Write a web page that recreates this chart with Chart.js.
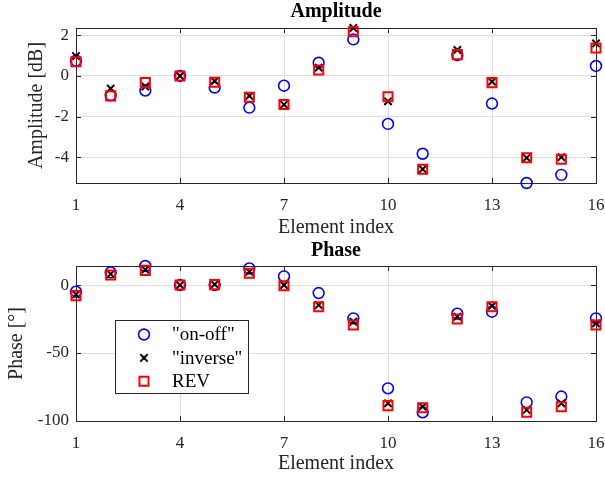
<!DOCTYPE html>
<html>
<head>
<meta charset="utf-8">
<script src="https://cdn.jsdelivr.net/npm/chart.js@4"></script>
<style>
  body { margin: 0; background: #ffffff; }
  .pane { position: absolute; left: 0; width: 605px; }
</style>
</head>
<body>
<div class="pane" style="top:0;height:240px"><canvas id="ampChart" width="605" height="240"></canvas></div>
<div class="pane" style="top:240px;height:239px"><canvas id="phaseChart" width="605" height="239"></canvas></div>
<script>
// element indices
const elements = [1, 2, 3, 4, 5, 6, 7, 8, 9, 10, 11, 12, 13, 14, 15, 16];
const elemTicks = [1, 4, 7, 10, 13, 16];

// amplitude [dB]
const ampOnOff   = [0.75, -0.95, -0.72, 0.00, -0.57, -1.56, -0.48, 0.65, 1.80, -2.36, -3.83, 1.02, -1.36, -5.27, -4.87, 0.49];
const ampInverse = [0.98, -0.62, -0.52, 0.00, -0.26, -0.98, -1.41, 0.41, 2.36, -1.25, -4.59, 1.28, -0.28, -4.03, -4.00, 1.60];
const ampRev     = [0.70, -0.98, -0.33, 0.00, -0.31, -1.05, -1.41, 0.29, 2.18, -1.02, -4.59, 1.05, -0.33, -4.03, -4.10, 1.38];
const ampTicks = [-4, -2, 0, 2];

// phase [deg]
const phaseOnOff   = [-4.9, 9.3, 14.0, 0.0, 0.0, 12.2, 6.4, -5.9, -24.5, -76.0, -93.6, -21.1, -19.6, -86.3, -82.0, -24.5];
const phaseInverse = [-6.9, 8.1, 11.3, 0.0, 0.5, 9.8, 0.0, -14.7, -27.0, -87.0, -89.5, -23.3, -15.4, -91.9, -87.0, -28.2];
const phaseRev     = [-7.8, 7.4, 10.8, 0.0, 0.3, 8.6, -0.5, -15.9, -29.4, -88.7, -90.2, -25.0, -15.9, -93.6, -89.5, -29.4];
const phaseTicks = [-100, -50, 0];

const seriesNames = ['"on-off"', '"inverse"', 'REV'];

const textColor = '#262626';
const serif = "'Liberation Serif', 'DejaVu Serif', serif";

function toPoints(ys) {
    return elements.map((x, i) => ({ x: x, y: ys[i] }));
}

function makeDatasets(onOff, inverse, rev) {
    return [
        { label: seriesNames[0], data: toPoints(onOff), pointStyle: 'circle', pointRadius: 5.4,
          borderColor: '#0000ff', backgroundColor: 'rgba(0,0,0,0)', pointBorderWidth: 1.6, showLine: false, clip: false, order: 3 },
        { label: seriesNames[1], data: toPoints(inverse), pointStyle: 'crossRot', pointRadius: 5.2,
          borderColor: '#000000', backgroundColor: '#000000', pointBorderWidth: 2, showLine: false, clip: false, order: 2 },
        { label: seriesNames[2], data: toPoints(rev), pointStyle: 'rect', pointRadius: 6.4,
          borderColor: '#ff0000', backgroundColor: 'rgba(0,0,0,0)', pointBorderWidth: 2, showLine: false, clip: false, order: 1 }
    ];
}

// box and inward ticks like matlab axes
const axesBox = {
    id: 'axesBox',
    beforeDatasetsDraw(chart) {
        const { ctx, chartArea: a, scales } = chart;
        const len = 5;
        ctx.save();
        ctx.strokeStyle = textColor;
        ctx.lineWidth = 1;
        ctx.beginPath();
        scales.x.ticks.forEach(t => {
            const px = Math.round(scales.x.getPixelForValue(t.value)) + 0.5;
            ctx.moveTo(px, a.bottom); ctx.lineTo(px, a.bottom - len);
            ctx.moveTo(px, a.top); ctx.lineTo(px, a.top + len);
        });
        scales.y.ticks.forEach(t => {
            const py = Math.round(scales.y.getPixelForValue(t.value)) + 0.5;
            ctx.moveTo(a.left, py); ctx.lineTo(a.left + len, py);
            ctx.moveTo(a.right, py); ctx.lineTo(a.right - len, py);
        });
        ctx.stroke();
        ctx.strokeRect(Math.round(a.left) + 0.5, Math.round(a.top) + 0.5,
                       Math.round(a.right - a.left), Math.round(a.bottom - a.top));
        ctx.restore();
    }
};

// title centred over the plot area
const axTitle = {
    id: 'axTitle',
    afterDraw(chart, args, opts) {
        if (!opts.text) return;
        const { ctx, chartArea: a } = chart;
        ctx.save();
        ctx.fillStyle = '#000000';
        ctx.font = 'bold 20px ' + serif;
        ctx.textAlign = 'center';
        ctx.textBaseline = 'middle';
        ctx.fillText(opts.text, (a.left + a.right) / 2, opts.y);
        ctx.restore();
    }
};

// legend box inside the axes
const boxLegend = {
    id: 'boxLegend',
    afterDatasetsDraw(chart, args, opts) {
        if (!opts.display) return;
        const { ctx } = chart;
        const x0 = opts.x, y0 = opts.y, w = opts.w, h = opts.h;
        ctx.save();
        ctx.fillStyle = '#ffffff';
        ctx.fillRect(x0, y0, w, h);
        ctx.strokeStyle = textColor;
        ctx.lineWidth = 1;
        ctx.strokeRect(x0 + 0.5, y0 + 0.5, w, h);
        chart.data.datasets.forEach((ds, i) => {
            const cy = y0 + 14.5 + i * 23.4;
            const cx = x0 + 29;
            ctx.strokeStyle = ds.borderColor;
            ctx.lineWidth = ds.pointBorderWidth;
            ctx.beginPath();
            if (ds.pointStyle === 'circle') {
                ctx.arc(cx, cy, 5.4, 0, Math.PI * 2);
            } else if (ds.pointStyle === 'crossRot') {
                const d = 3.7;
                ctx.moveTo(cx - d, cy - d); ctx.lineTo(cx + d, cy + d);
                ctx.moveTo(cx - d, cy + d); ctx.lineTo(cx + d, cy - d);
            } else {
                ctx.rect(cx - 4.5, cy - 4.5, 9, 9);
            }
            ctx.stroke();
            ctx.fillStyle = '#000000';
            ctx.font = '19px ' + serif;
            ctx.textAlign = 'left';
            ctx.textBaseline = 'middle';
            ctx.fillText(ds.label, x0 + 57, cy + 1);
        });
        ctx.restore();
    }
};

function makeChart(canvasId, datasets, cfg) {
    const ctx = document.getElementById(canvasId);
    if (!ctx) return null;

    return new Chart(ctx, {
        type: 'scatter',
        data: { datasets: datasets },
        plugins: [axesBox, axTitle, boxLegend],
        options: {
            responsive: false,
            animation: false,
            events: [],
            layout: { padding: { top: cfg.padTop, right: 9, left: 0, bottom: 0 } },
            plugins: {
                legend: { display: false },
                tooltip: { enabled: false },
                axTitle: { text: cfg.title, y: cfg.titleY },
                boxLegend: cfg.legend
            },
            scales: {
                x: {
                    type: 'linear',
                    min: 1,
                    max: 16,
                    afterBuildTicks: (s) => { s.ticks = elemTicks.map(v => ({ value: v })); },
                    afterFit: (s) => { s.height = cfg.xHeight; s.paddingLeft = 0; s.paddingRight = 0; },
                    grid: { color: '#dfdfdf', drawTicks: false },
                    border: { display: false },
                    ticks: { color: textColor, font: { family: serif, size: 17 }, padding: 12, maxRotation: 0 },
                    title: { display: true, text: 'Element index', color: textColor,
                             font: { family: serif, size: 20 }, padding: { top: 0, bottom: cfg.xTitlePad } }
                },
                y: {
                    type: 'linear',
                    min: cfg.yMin,
                    max: cfg.yMax,
                    afterBuildTicks: (s) => { s.ticks = cfg.yTicks.map(v => ({ value: v })); },
                    afterFit: (s) => { s.width = 76; s.paddingTop = 0; s.paddingBottom = 0; },
                    grid: { color: '#dfdfdf', drawTicks: false },
                    border: { display: false },
                    ticks: { color: textColor, font: { family: serif, size: 17 }, padding: 7 },
                    title: { display: true, text: cfg.yLabel, color: textColor,
                             font: { family: serif, size: 20 }, padding: { top: cfg.yTitlePad, bottom: 0 } }
                }
            }
        }
    });
}

const ampAll = ampOnOff.concat(ampInverse, ampRev);
const phaseAll = phaseOnOff.concat(phaseInverse, phaseRev);

makeChart('ampChart', makeDatasets(ampOnOff, ampInverse, ampRev), {
    title: 'Amplitude', titleY: 11.5, padTop: 28,
    yMin: Math.min(...ampAll), yMax: Math.max(...ampAll), yTicks: ampTicks,
    yLabel: 'Amplitude [dB]', yTitlePad: 25,
    xHeight: 57, xTitlePad: 0.5,
    legend: { display: false }
});

makeChart('phaseChart', makeDatasets(phaseOnOff, phaseInverse, phaseRev), {
    title: 'Phase', titleY: 11, padTop: 26,
    yMin: -100, yMax: Math.max(...phaseAll), yTicks: phaseTicks,
    yLabel: 'Phase [°]', yTitlePad: 5,
    xHeight: 58, xTitlePad: 3,
    legend: { display: true, x: 115, y: 80, w: 133, h: 73 }
});
</script>
</body>
</html>
